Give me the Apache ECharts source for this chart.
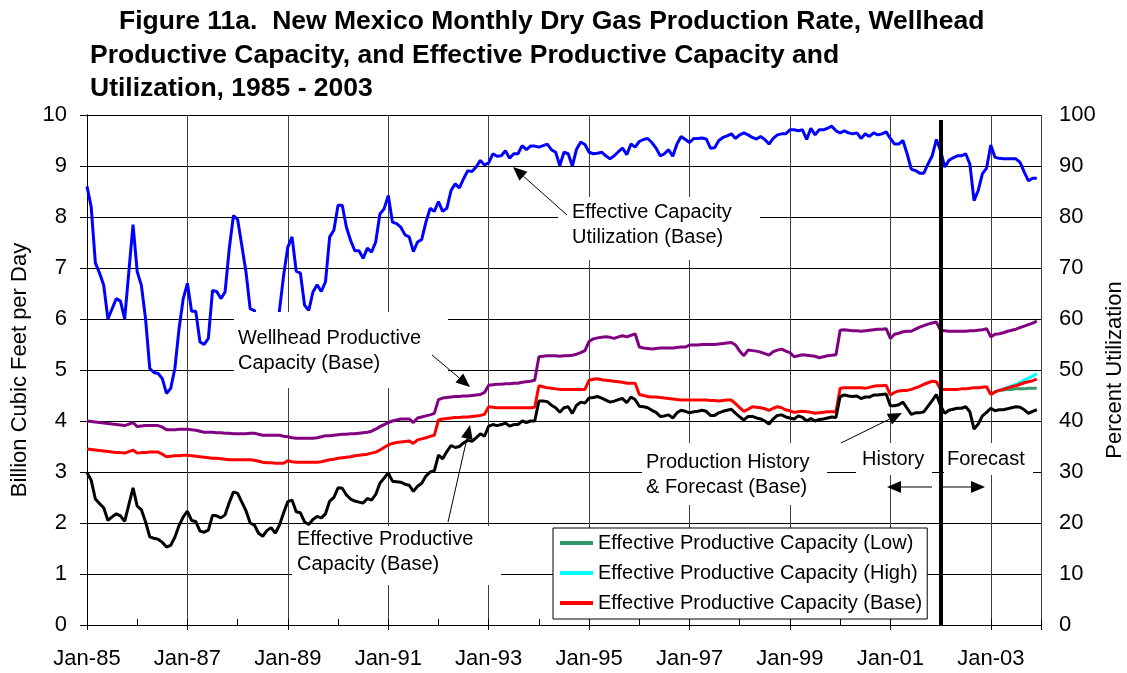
<!DOCTYPE html>
<html>
<head>
<meta charset="utf-8">
<script src="https://cdn.jsdelivr.net/npm/echarts@6/dist/echarts.min.js"></script>
<style>
html,body{margin:0;padding:0;background:#fff;}
#chart{width:1127px;height:673px;}
</style>
</head>
<body>
<div id="chart"></div>
<script>
// x axis: months since Jan-1985 (index 0 = Jan-85)
const xTickLabels = ['Jan-85','Jan-87','Jan-89','Jan-91','Jan-93','Jan-95','Jan-97','Jan-99','Jan-01','Jan-03'];
const divideMonth = 204; // Jan-02, History | Forecast
const titleLines = [
  'Figure 11a.  New Mexico Monthly Dry Gas Production Rate, Wellhead',
  'Productive Capacity, and Effective Productive Capacity and',
  'Utilization, 1985 - 2003'
];

// Effective Capacity Utilization (Base), percent, monthly Jan-85 .. Dec-03
const utilization = [
  86, 82, 71, 69, 66.6, 60, 62, 64, 63.5, 60, 69.3, 78.5,
  69.3, 66.6, 60, 50.3, 49.5, 49.3, 48.3, 45.4, 46.4, 50.3, 58.1, 64,
  67, 61.5, 61.5, 55.5, 55, 56.2, 65.6, 65.4, 64, 65.3, 73.8, 80.3,
  79.5, 74.4, 69.2, 62, 61.7, 57, 54.5, 60, 60, 55.5, 61.7, 68.6,
  74.1, 76.1, 69.4, 69, 62.7, 61.7, 65.3, 66.7, 65.4, 67.3, 76.1, 77.4,
  82.3, 82.3, 78, 75.4, 73.4, 73.4, 71.9, 73.9, 73.1, 75.1, 80.6, 81.6,
  84.2, 79, 78.7, 78, 76.5, 76.1, 73.2, 75.1, 75.6, 79, 81.7, 81.1,
  83, 81.1, 81.7, 85.2, 86.5, 85.7, 87.5, 89.1, 88.9, 89.8, 91.1, 90.2,
  90.6, 92.4, 91.9, 92, 93, 91.5, 92.4, 92.4, 94, 93.2, 93.9, 93.9,
  93.7, 94, 94.3, 93.2, 92.7, 90.1, 92.7, 92.4, 90, 93.3, 94.7, 94.2,
  92.7, 92.4, 92.5, 92.7, 92, 91.4, 92, 92.8, 93.5, 92.2, 94.3, 93.7,
  94.8, 95.2, 95.4, 94.6, 93.5, 92, 92.4, 93.2, 91.9, 94.3, 95.8, 95.2,
  94.6, 95.4, 95.4, 95.5, 95.3, 93.5, 93.6, 95, 95.6, 95.9, 96.3, 95.4,
  96.1, 96.5, 96.1, 95.6, 95.3, 95.8, 95.2, 94.3, 95.4, 96.1, 96.3, 96.3,
  97.1, 97.1, 96.9, 97.1, 95.2, 97.4, 96.1, 97.1, 97.1, 97.4, 97.8, 96.9,
  96.5, 96.9, 96.5, 96.3, 96.5, 95.4, 96.3, 95.8, 96.5, 96.1, 96.3, 96.7,
  95.4, 94.3, 94.3, 95, 92.4, 89.4, 89.1, 88.6, 88.6, 90.4, 92, 95.2,
  93, 89.8, 91.1, 91.6, 92, 92, 92.4, 90.4, 83.2, 85.2, 88.5, 89.6,
  94.1, 91.7, 91.5, 91.4, 91.4, 91.4, 91.4, 90.7, 88.8, 87.1, 87.6, 87.6
];

// Wellhead Productive Capacity (Base), Bcf/d
const wellheadCapacity = [
  4.00, 3.99, 3.98, 3.97, 3.96, 3.95, 3.94, 3.93, 3.92, 3.91, 3.94, 3.97,
  3.89, 3.90, 3.91, 3.91, 3.91, 3.91, 3.88, 3.83, 3.83, 3.83, 3.84, 3.84,
  3.84, 3.83, 3.82, 3.80, 3.78, 3.78, 3.78, 3.77, 3.77, 3.76, 3.76, 3.75,
  3.75, 3.75, 3.75, 3.76, 3.76, 3.74, 3.72, 3.72, 3.72, 3.72, 3.72, 3.70,
  3.69, 3.67, 3.66, 3.66, 3.66, 3.66, 3.66, 3.67, 3.69, 3.71, 3.71, 3.72,
  3.73, 3.74, 3.74, 3.75, 3.75, 3.76, 3.77, 3.78, 3.80, 3.84, 3.89, 3.93,
  3.97, 4.00, 4.02, 4.04, 4.04, 4.04, 3.97, 4.06, 4.08, 4.10, 4.12, 4.15,
  4.42, 4.45, 4.46, 4.47, 4.48, 4.48, 4.49, 4.49, 4.50, 4.51, 4.52, 4.56,
  4.70, 4.71, 4.72, 4.72, 4.73, 4.73, 4.74, 4.74, 4.76, 4.77, 4.78, 4.80,
  5.26, 5.27, 5.28, 5.28, 5.28, 5.27, 5.28, 5.28, 5.29, 5.31, 5.34, 5.38,
  5.56, 5.61, 5.63, 5.64, 5.65, 5.64, 5.62, 5.65, 5.67, 5.65, 5.68, 5.71,
  5.45, 5.43, 5.42, 5.41, 5.42, 5.43, 5.43, 5.43, 5.43, 5.44, 5.45, 5.45,
  5.49, 5.49, 5.49, 5.50, 5.50, 5.50, 5.50, 5.51, 5.52, 5.53, 5.54, 5.49,
  5.37, 5.28, 5.39, 5.38, 5.37, 5.35, 5.32, 5.29, 5.36, 5.39, 5.41, 5.37,
  5.34, 5.26, 5.28, 5.30, 5.29, 5.28, 5.27, 5.24, 5.26, 5.28, 5.29, 5.30,
  5.78, 5.79, 5.78, 5.77, 5.77, 5.76, 5.77, 5.78, 5.79, 5.80, 5.80, 5.81,
  5.62, 5.70, 5.72, 5.75, 5.76, 5.76, 5.80, 5.84, 5.87, 5.90, 5.92, 5.94,
  5.78, 5.77, 5.76, 5.76, 5.76, 5.76, 5.76, 5.77, 5.77, 5.78, 5.79, 5.81,
  5.65, 5.70, 5.71, 5.73, 5.76, 5.78, 5.80, 5.83, 5.86, 5.89, 5.92, 5.96
];

// Effective Productive Capacity (Base), Bcf/d
const effectiveCapacityBase = [
  3.45, 3.44, 3.43, 3.42, 3.41, 3.40, 3.39, 3.38, 3.38, 3.37, 3.40, 3.43,
  3.37, 3.38, 3.38, 3.39, 3.39, 3.39, 3.35, 3.30, 3.31, 3.32, 3.32, 3.33,
  3.33, 3.32, 3.31, 3.30, 3.29, 3.28, 3.27, 3.27, 3.26, 3.25, 3.24, 3.24,
  3.24, 3.24, 3.24, 3.24, 3.23, 3.21, 3.19, 3.18, 3.18, 3.17, 3.17, 3.17,
  3.22, 3.20, 3.19, 3.19, 3.19, 3.19, 3.19, 3.19, 3.20, 3.22, 3.24, 3.25,
  3.27, 3.28, 3.29, 3.30, 3.32, 3.33, 3.34, 3.35, 3.37, 3.39, 3.43, 3.48,
  3.53, 3.56, 3.58, 3.59, 3.60, 3.61, 3.56, 3.63, 3.65, 3.67, 3.70, 3.72,
  4.02, 4.04, 4.05, 4.06, 4.07, 4.07, 4.08, 4.08, 4.09, 4.10, 4.11, 4.13,
  4.28, 4.27, 4.26, 4.26, 4.26, 4.26, 4.26, 4.26, 4.26, 4.26, 4.26, 4.27,
  4.69, 4.67, 4.65, 4.64, 4.63, 4.62, 4.62, 4.62, 4.62, 4.62, 4.62, 4.62,
  4.80, 4.82, 4.83, 4.81, 4.80, 4.79, 4.78, 4.77, 4.76, 4.74, 4.74, 4.74,
  4.52, 4.50, 4.48, 4.47, 4.47, 4.46, 4.45, 4.44, 4.43, 4.42, 4.41, 4.41,
  4.41, 4.41, 4.41, 4.41, 4.41, 4.40, 4.40, 4.39, 4.40, 4.41, 4.41, 4.34,
  4.26, 4.19, 4.23, 4.28, 4.27, 4.26, 4.24, 4.21, 4.25, 4.28, 4.26, 4.22,
  4.20, 4.17, 4.18, 4.19, 4.18, 4.17, 4.15, 4.16, 4.17, 4.18, 4.18, 4.18,
  4.64, 4.65, 4.65, 4.65, 4.65, 4.65, 4.64, 4.66, 4.68, 4.69, 4.69, 4.70,
  4.51, 4.56, 4.59, 4.60, 4.60, 4.62, 4.65, 4.68, 4.72, 4.75, 4.78, 4.77,
  4.62, 4.62, 4.62, 4.62, 4.62, 4.63, 4.63, 4.64, 4.65, 4.65, 4.66, 4.67,
  4.52, 4.57, 4.60, 4.62, 4.65, 4.67, 4.69, 4.72, 4.75, 4.77, 4.79, 4.82
];

// Production History & Forecast (Base), Bcf/d
const production = [
  2.99, 2.84, 2.47, 2.38, 2.30, 2.05, 2.12, 2.18, 2.14, 2.03, 2.36, 2.69,
  2.33, 2.26, 2.02, 1.73, 1.70, 1.68, 1.62, 1.53, 1.56, 1.72, 1.95, 2.12,
  2.23, 2.05, 2.03, 1.84, 1.82, 1.86, 2.15, 2.14, 2.10, 2.16, 2.40, 2.61,
  2.58, 2.41, 2.24, 2.00, 1.96, 1.80, 1.74, 1.85, 1.91, 1.80, 1.96, 2.20,
  2.42, 2.45, 2.22, 2.20, 2.02, 1.97, 2.07, 2.13, 2.10, 2.18, 2.43, 2.50,
  2.69, 2.68, 2.55, 2.47, 2.43, 2.41, 2.39, 2.48, 2.45, 2.56, 2.78, 2.88,
  2.98, 2.82, 2.81, 2.80, 2.76, 2.74, 2.62, 2.72, 2.78, 2.92, 3.00, 3.02,
  3.33, 3.26, 3.40, 3.52, 3.48, 3.50, 3.57, 3.62, 3.60, 3.67, 3.75, 3.70,
  3.90, 3.93, 3.91, 3.93, 3.96, 3.90, 3.93, 3.93, 4.00, 3.97, 4.00, 4.00,
  4.39, 4.39, 4.38, 4.31, 4.26, 4.17, 4.26, 4.28, 4.15, 4.31, 4.37, 4.35,
  4.45, 4.46, 4.48, 4.45, 4.41, 4.37, 4.39, 4.42, 4.44, 4.36, 4.47, 4.42,
  4.29, 4.28, 4.26, 4.21, 4.17, 4.09, 4.10, 4.12, 4.06, 4.16, 4.21, 4.19,
  4.16, 4.18, 4.19, 4.21, 4.19, 4.11, 4.11, 4.16, 4.19, 4.21, 4.23, 4.15,
  4.08, 4.02, 4.09, 4.09, 4.06, 4.04, 4.00, 3.94, 4.04, 4.11, 4.12, 4.08,
  4.06, 4.04, 4.10, 4.07, 4.00, 4.05, 4.00, 4.03, 4.04, 4.06, 4.08, 4.07,
  4.48, 4.51, 4.49, 4.48, 4.49, 4.44, 4.47, 4.47, 4.51, 4.51, 4.52, 4.53,
  4.30, 4.30, 4.32, 4.37, 4.25, 4.13, 4.16, 4.16, 4.18, 4.29, 4.40, 4.52,
  4.30, 4.15, 4.21, 4.23, 4.25, 4.25, 4.28, 4.18, 3.84, 3.94, 4.10, 4.17,
  4.25, 4.20, 4.22, 4.22, 4.24, 4.26, 4.28, 4.27, 4.22, 4.15, 4.19, 4.22
];

// Forecast scenarios start Jan-03 (month index 216)
const scenarioStart = 216;
const effectiveCapacityLow  = [4.52, 4.57, 4.60, 4.61, 4.62, 4.62, 4.63, 4.63, 4.63, 4.64, 4.64, 4.64];
const effectiveCapacityHigh = [4.52, 4.57, 4.60, 4.63, 4.66, 4.69, 4.72, 4.76, 4.80, 4.84, 4.88, 4.93];

const FONT = '"Liberation Sans", Arial, sans-serif';
const toPairs = (arr, start) => arr.map((v, i) => [start + i, v]);

function arrow(x1, y1, x2, y2, hl, hw) {
  const dx = x2 - x1, dy = y2 - y1, L = Math.hypot(dx, dy);
  const ux = dx / L, uy = dy / L;
  const bx = x2 - ux * hl, by = y2 - uy * hl;
  return [
    {type: 'line', z: 101, shape: {x1: x1, y1: y1, x2: bx, y2: by}, style: {stroke: '#000', lineWidth: 1}},
    {type: 'polygon', z: 101, shape: {points: [[x2, y2], [bx - uy * hw, by + ux * hw], [bx + uy * hw, by - ux * hw]]}, style: {fill: '#000'}}
  ];
}
function label(box, lines, tx, ty, lh) {
  const els = [{type: 'rect', z: 100, shape: {x: box[0], y: box[1], width: box[2], height: box[3]}, style: {fill: '#fff'}}];
  lines.forEach((t, i) => {
    els.push({type: 'text', z: 101, x: tx, y: ty + i * lh,
      style: {text: t, font: '20px ' + FONT, fill: '#000', align: 'left', verticalAlign: 'middle'}});
  });
  return els;
}

const titleEls = titleLines.map((t, i) => ({
  type: 'text', z: 101, x: i === 0 ? 119 : 90, y: 22 + i * 33.5,
  style: {text: t, font: 'bold 26.5px ' + FONT, fill: '#000', align: 'left', verticalAlign: 'middle'}
}));

const graphics = [].concat(
  titleEls,
  label([558, 197, 202, 63], ['Effective Capacity', 'Utilization (Base)'], 572, 212, 25),
  arrow(567, 215, 513, 167, 14, 6),
  label([234, 312, 214, 76], ['Wellhead Productive', 'Capacity (Base)'], 238, 338, 25),
  arrow(432, 355, 470, 387, 14, 6),
  label([292, 526, 209, 59], ['Effective Productive', 'Capacity (Base)'], 297, 539, 25),
  arrow(448, 522, 470, 425, 14, 6),
  label([642, 443, 185, 62], ['Production History', '& Forecast (Base)'], 646, 462, 25),
  arrow(841, 443, 902, 413, 14, 6),
  label([856, 443, 76, 32], ['History'], 862, 459, 25),
  label([944, 443, 89, 32], ['Forecast'], 947, 459, 25),
  arrow(932, 487, 887, 487, 14, 6),
  arrow(943, 487, 985, 487, 14, 6),
  [
    {type: 'text', z: 101, x: 20, y: 370, rotation: Math.PI / 2,
     style: {text: 'Billion Cubic Feet per Day', font: '22px ' + FONT, fill: '#000', align: 'center', verticalAlign: 'middle'}},
    {type: 'text', z: 101, x: 1115, y: 370, rotation: Math.PI / 2,
     style: {text: 'Percent Utilization', font: '22px ' + FONT, fill: '#000', align: 'center', verticalAlign: 'middle'}}
  ]
);

const chart = echarts.init(document.getElementById('chart'), null, {renderer: 'canvas'});
chart.setOption({
  animation: false,
  backgroundColor: '#fff',
  grid: {left: 87, right: 86, top: 115, bottom: 48},
  legend: {
    orient: 'vertical', left: 553, top: 528,
    data: ['Effective Productive Capacity (Low)', 'Effective Productive Capacity (High)', 'Effective Productive Capacity (Base)'],
    icon: 'rect', itemWidth: 33, itemHeight: 4, itemGap: 10,
    padding: [5, 5, 6, 7],
    backgroundColor: '#fff', borderColor: '#000', borderWidth: 1,
    textStyle: {fontFamily: FONT, fontSize: 20, color: '#000', padding: [0, 0, 0, 0]},
    z: 50
  },
  xAxis: [{
    type: 'value', min: 0, max: 228, interval: 24,
    axisLine: {show: true, lineStyle: {color: '#000', width: 1}},
    axisTick: {show: true, length: 5, lineStyle: {color: '#000'}},
    axisLabel: {fontFamily: FONT, fontSize: 22, color: '#000', margin: 23,
      formatter: v => (v % 24 === 0 && xTickLabels[v / 24]) ? xTickLabels[v / 24] : ''},
    splitLine: {show: true, lineStyle: {color: '#404040', width: 1}}
  }, {
    type: 'value', min: 0, max: 228, interval: 12, position: 'bottom',
    axisLine: {show: false},
    axisTick: {show: true, inside: true, length: 6, lineStyle: {color: '#000'}},
    axisLabel: {show: false},
    splitLine: {show: false}
  }],
  yAxis: [{
    type: 'value', min: 0, max: 10, interval: 1,
    axisLine: {show: true, lineStyle: {color: '#404040'}},
    axisTick: {show: true, length: 7, lineStyle: {color: '#000'}},
    axisLabel: {fontFamily: FONT, fontSize: 22, color: '#000', margin: 20},
    splitLine: {show: true, lineStyle: {color: '#000', width: 1}}
  }, {
    type: 'value', min: 0, max: 100, interval: 10, position: 'right',
    axisLine: {show: true, lineStyle: {color: '#000'}},
    axisTick: {show: true, length: 9, lineStyle: {color: '#000'}},
    axisLabel: {fontFamily: FONT, fontSize: 22, color: '#000', margin: 18},
    splitLine: {show: false}
  }],
  graphic: {elements: graphics},
  series: [
    {name: 'Effective Productive Capacity (Low)', type: 'line', data: toPairs(effectiveCapacityLow, scenarioStart),
     showSymbol: false, color: '#339966', lineStyle: {width: 3, color: '#339966'}, z: 2},
    {name: 'Effective Productive Capacity (High)', type: 'line', data: toPairs(effectiveCapacityHigh, scenarioStart),
     showSymbol: false, color: '#00FFFF', lineStyle: {width: 3, color: '#00FFFF'}, z: 2},
    {name: 'Wellhead Productive Capacity (Base)', type: 'line', data: toPairs(wellheadCapacity, 0),
     showSymbol: false, color: '#800080', lineStyle: {width: 3, color: '#800080'}, z: 3},
    {name: 'Effective Productive Capacity (Base)', type: 'line', data: toPairs(effectiveCapacityBase, 0),
     showSymbol: false, color: '#FF0000', lineStyle: {width: 3, color: '#FF0000'}, z: 3},
    {name: 'Production History & Forecast (Base)', type: 'line', data: toPairs(production, 0),
     showSymbol: false, color: '#000000', lineStyle: {width: 3, color: '#000000'}, z: 4,
     markLine: {silent: true, symbol: ['none', 'none'], label: {show: false},
       lineStyle: {color: '#000', width: 4, type: 'solid'},
       data: [[{coord: [divideMonth, 0]}, {coord: [divideMonth, 9.9]}]]}},
    {name: 'Effective Capacity Utilization (Base)', type: 'line', yAxisIndex: 1, data: toPairs(utilization, 0),
     showSymbol: false, color: '#0000FF', lineStyle: {width: 3, color: '#0000FF'}, z: 4}
  ]
});
</script>
</body>
</html>
